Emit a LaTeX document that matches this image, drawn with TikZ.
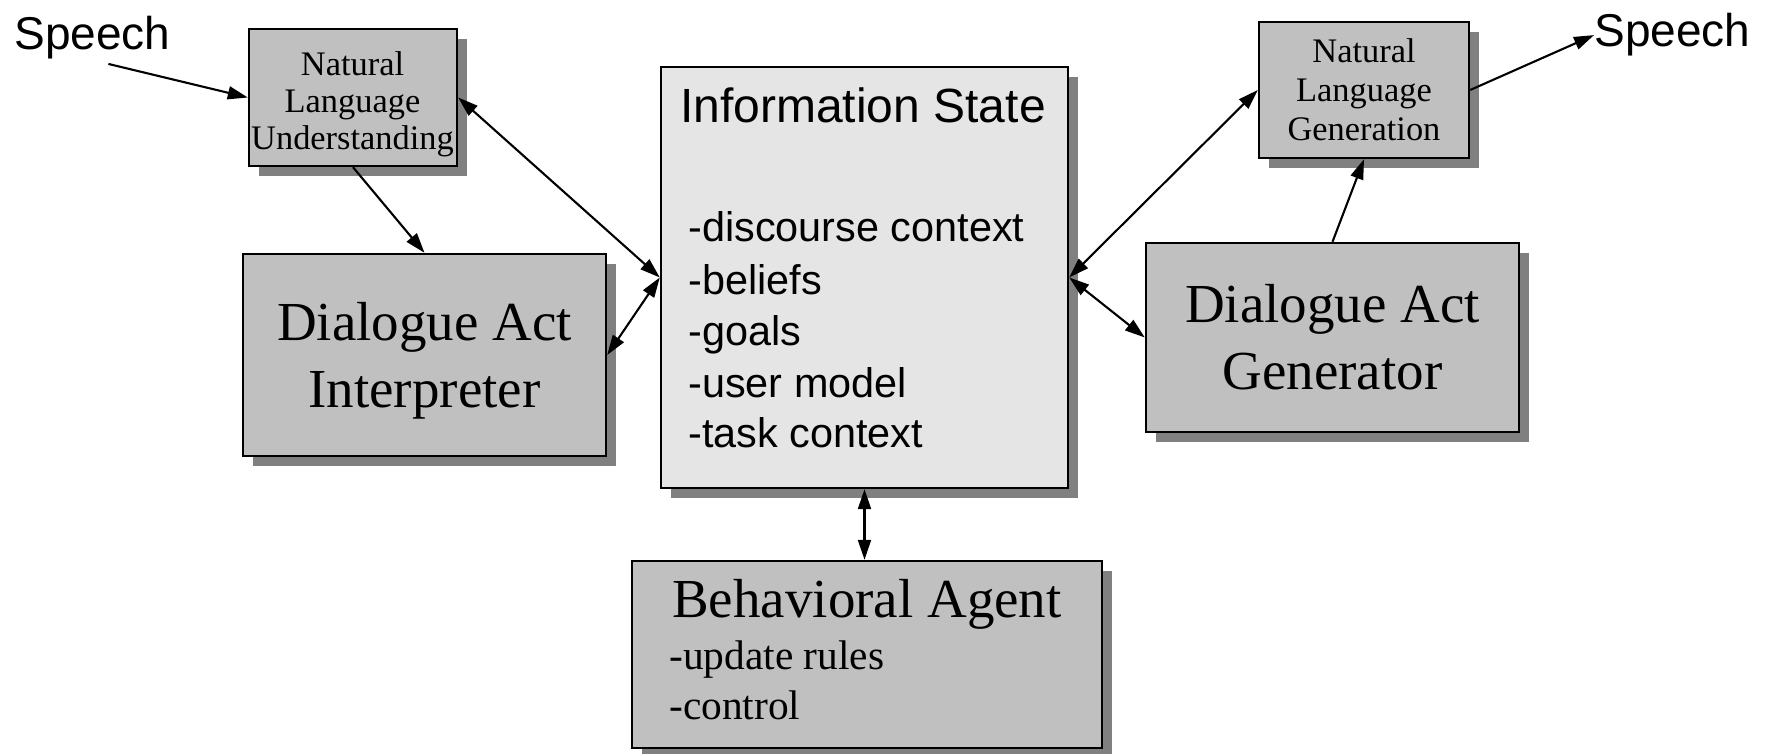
\documentclass[tikz,border=0pt]{standalone}
\usepackage{fontspec}
\setmainfont{Liberation Serif}
\newfontfamily\helv{Liberation Sans}
\usetikzlibrary{arrows.meta,shadows,calc}
\definecolor{boxgray}{HTML}{C0C0C0}
\definecolor{panelgray}{HTML}{E5E5E5}
\definecolor{shadowgray}{HTML}{808080}

\begin{document}
\begin{tikzpicture}[x=0.5pt,y=-0.5pt,
  box/.style={draw, line width=1.2pt, fill=boxgray, inner sep=0pt, align=center,
    drop shadow={shadow xshift=5pt, shadow yshift=-5pt, opacity=1, fill=shadowgray}},
  tip/.tip={Triangle[length=10pt,width=6.5pt]},
  conn/.style={line width=1.05pt, -tip},
  biconn/.style={line width=1.05pt, tip-tip},
  big/.style={font=\fontsize{27.5pt}{33.5pt}\selectfont},
  small/.style={font=\fontsize{17pt}{19pt}\selectfont},
  txt/.style={inner sep=0pt},
  sans/.style={font=\helv\fontsize{23pt}{27pt}\selectfont, inner sep=0pt},
  listsans/.style={font=\helv\fontsize{20.7pt}{25pt}\selectfont, inner sep=0pt, anchor=base west},
  listserif/.style={font=\fontsize{20.7pt}{25pt}\selectfont, inner sep=0pt, anchor=base west}]

\useasboundingbox[fill=white] (0,0) rectangle (1774,754);

% input side
\node[box, minimum width=104pt, minimum height=68.5pt] (nlu) at (353,97.5) {};
\node[txt, small, align=center, font=\fontsize{17.2pt}{18.5pt}\selectfont] (nlutext) at (352.5,104) {Natural\\Language\\Understanding};
\node[box, big, text depth=0pt, minimum width=181.5pt, minimum height=101pt] (dai) at (424.5,355) {Dialogue Act\\Interpreter};

% central information state
\node[box, fill=panelgray, minimum width=203.5pt, minimum height=210.5pt] (info) at (864.5,277.5) {};
\node[txt, anchor=base, font=\helv\fontsize{24pt}{28pt}\selectfont] (infotitle) at (863,123) {Information State};
\node[listsans] (is1) at (688,242) {-discourse context};
\node[listsans] (is2) at (688,295) {-beliefs};
\node[listsans] (is3) at (688,346) {-goals};
\node[listsans] (is4) at (688,398) {-user model};
\node[listsans] (is5) at (688,448) {-task context};

% output side
\node[box, font=\fontsize{17.2pt}{19.5pt}\selectfont, minimum width=105pt, minimum height=68pt] (nlg) at (1364,90) {Natural\\Language\\Generation};
\node[box, big, minimum width=186.5pt, minimum height=94.5pt] (dag) at (1332.5,337.5) {Dialogue Act\\Generator};

% behavioral agent
\node[box, minimum width=235pt, minimum height=93.5pt] (ba) at (867,654.5) {};
\node[txt, big, anchor=base] (batitle) at (867,617) {Behavioral Agent};
\node[listserif] (ba1) at (669,669) {-update rules};
\node[listserif] (ba2) at (669,719) {-control};

% speech in and out
\node[sans, anchor=base west] (speechin) at (14,50) {Speech};
\node[sans, anchor=base west] (speechout) at (1594,47) {Speech};

% connectors
\draw[conn] ($(speechin.south)+(16,4)$) -- (nlu.west);
\draw[conn] (nlu.south) -- (dai.north);
\draw[biconn] (nlu.east) -- (info.west);
\draw[biconn] (dai.east) -- (info.west);
\draw[biconn] (info.east) -- (nlg.west);
\draw[biconn] (info.east) -- (dag.west);
\draw[conn] (dag.north) -- (nlg.south);
\draw[conn] (nlg.east) -- (speechout.west);
\draw[biconn] (info.south) -- (info.south |- ba.north);
\end{tikzpicture}
\end{document}
